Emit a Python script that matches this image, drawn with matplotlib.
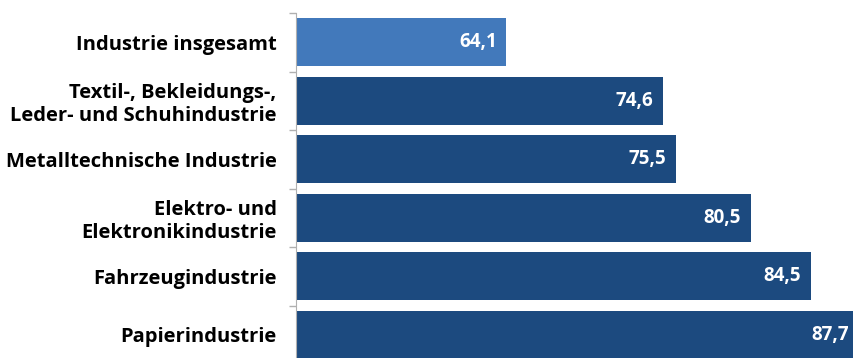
import matplotlib
matplotlib.use("Agg")
from matplotlib import pyplot as plt

labels = ["Industrie insgesamt",
          "Textil-, Bekleidungs-,\nLeder- und Schuhindustrie",
          "Metalltechnische Industrie",
          "Elektro- und\nElektronikindustrie",
          "Fahrzeugindustrie",
          "Papierindustrie"]
values = [64.1, 74.6, 75.5, 80.5, 84.5, 87.7]
value_texts = ["64,1", "74,6", "75,5", "80,5", "84,5", "87,7"]
colors = ["#4279bb"] + ["#1c4a7f"] * 5

plt.rcParams["font.family"] = ["Open Sans", "DejaVu Sans"]

fig = plt.figure(figsize=(8.54, 3.58), dpi=100)
ax = fig.add_axes([296 / 854, (358 - 364) / 358, 1 - 296 / 854, 351 / 358])

y = list(range(len(values)))
ax.barh(y, [v - 50 for v in values], left=50, height=0.82, color=colors)
ax.set_xlim(50, 87.4)
ax.set_ylim(len(values) - 0.5, -0.5)

for yi, v, t in zip(y, values, value_texts):
    ax.annotate(t, xy=(v, yi), xytext=(-7, 0), textcoords="offset points",
                ha="right", va="center", color="white", fontsize=13.5,
                fontweight="bold", annotation_clip=False)

ax.set_yticks(y)
ax.set_yticklabels(labels, fontsize=14.5, fontweight="bold", linespacing=1.2)
ax.tick_params(axis="y", which="major", length=0, pad=14)
ax.set_yticks([i - 0.5 for i in range(len(values) + 1)], minor=True)
ax.tick_params(axis="y", which="minor", length=5, color="#b0b0b0", width=1)
ax.set_xticks([])
for s in ["top", "right", "bottom"]:
    ax.spines[s].set_visible(False)
ax.spines["left"].set_color("#b0b0b0")

fig.savefig("out.png", dpi=100)
